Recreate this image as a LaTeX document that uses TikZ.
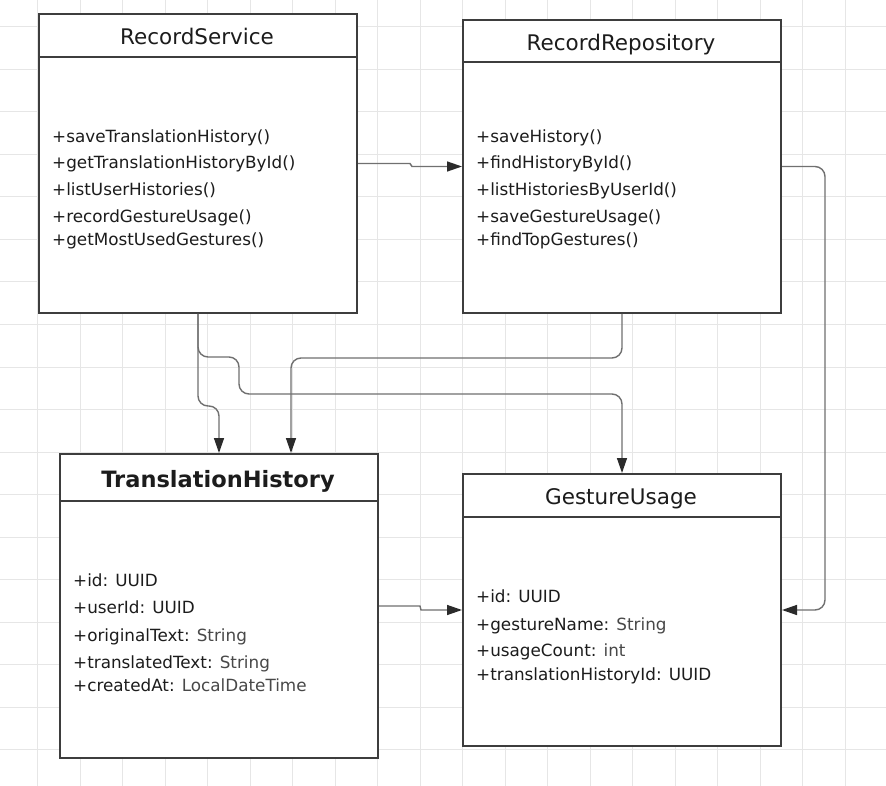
\documentclass[tikz,border=0pt]{standalone}
\usepackage{fontspec}
\setmainfont{DejaVu Sans}
\usetikzlibrary{arrows.meta}
\definecolor{boxborder}{HTML}{3D3D3D}
\definecolor{gridgray}{HTML}{E6E6E6}
\definecolor{wiregray}{HTML}{707070}
\definecolor{tipdark}{HTML}{2B2B2B}
\definecolor{inktext}{HTML}{1C1C1C}
\definecolor{typetext}{HTML}{484848}
\newcommand{\typ}[1]{\textcolor{typetext}{#1}}

\begin{document}
\begin{tikzpicture}[x=1pt, y=-1pt,
    gridline/.style={draw=gridgray, line width=1pt},
    classbox/.style={draw=boxborder, fill=white, line width=2pt, anchor=north west,
                     minimum width=318pt, inner sep=0pt},
    divider/.style={draw=boxborder, line width=2pt},
    classtitle/.style={anchor=base, inner sep=0pt, text=inktext,
                       font=\fontsize{21.5}{26}\selectfont},
    member/.style={anchor=base west, inner sep=0pt, text=inktext,
                   font=\fontsize{16.8}{20}\selectfont},
    conn/.style={draw=wiregray, line width=1.4pt, rounded corners=10pt,
                 -{Triangle[length=15pt, width=10pt, color=tipdark]}}
  ]
    \useasboundingbox[fill=white] (0,0) rectangle (886,786);

    % background grid
    \foreach \gx in {0,...,20}
      \draw[gridline] ({37.5+42.5*\gx},0) -- ++(0,786);
    \foreach \gy in {0,...,17}
      \draw[gridline] (0,{27+42.5*\gy}) -- ++(886,0);

    % classes
    \node[classbox, minimum height=299pt] (svc)  at (38,13)  {};
    \node[classbox, minimum height=293pt] (repo) at (462,19) {};
    \node[classbox, minimum height=304pt] (th)   at (59,453) {};
    \node[classbox, minimum height=272pt] (gu)   at (462,473) {};

    \draw[divider] ([yshift=-44pt]svc.north west)  -- ([yshift=-44pt]svc.north east);
    \draw[divider] ([yshift=-43pt]repo.north west) -- ([yshift=-43pt]repo.north east);
    \draw[divider] ([yshift=-48pt]th.north west)   -- ([yshift=-48pt]th.north east);
    \draw[divider] ([yshift=-44pt]gu.north west)   -- ([yshift=-44pt]gu.north east);

    \node[classtitle] (svctitle)  at (197,45)  {RecordService};
    \node[classtitle] (repotitle) at (621,51)  {RecordRepository};
    \node[classtitle, font=\fontsize{22.5}{27}\selectfont\bfseries] (thtitle) at (218,487) {TranslationHistory};
    \node[classtitle] (gutitle)   at (621,504) {GestureUsage};

    % members
    \foreach \y/\txt [count=\i] in {143/{+saveTranslationHistory()}, 169/{+getTranslationHistoryById()},
        196/{+listUserHistories()}, 223/{+recordGestureUsage()}, 246/{+getMostUsedGestures()}}
      \node[member] (svcm\i) at (52,\y) {\txt};
    \foreach \y/\txt [count=\i] in {143/{+saveHistory()}, 169/{+findHistoryById()},
        196/{+listHistoriesByUserId()}, 223/{+saveGestureUsage()}, 246/{+findTopGestures()}}
      \node[member] (repom\i) at (476,\y) {\txt};
    \foreach \y/\txt [count=\i] in {586/{+id: UUID}, 613/{+userId: UUID},
        641/{+originalText: \typ{String}}, 668/{+translatedText: \typ{String}},
        691/{+createdAt: \typ{LocalDateTime}}}
      \node[member] (thm\i) at (73,\y) {\txt};
    \foreach \y/\txt [count=\i] in {602/{+id: UUID}, 630/{+gestureName: \typ{String}},
        656/{+usageCount: \typ{int}}, 680/{+translationHistoryId: UUID}}
      \node[member] (gum\i) at (476,\y) {\txt};

    % connectors
    \draw[conn, sharp corners] (svc.east) -- ++(52,0) -- ([xshift=-50pt]repo.west) -- (repo.west);
    \draw[conn] (svc.south) -- ++(0,92) -| (th.north);
    \draw[conn] (svc.south) -- ++(0,43) -| ++(41,37) -| (gu.north);
    \draw[conn] (repo.south) -- ++(0,44) -| ([xshift=72pt]th.north);
    \draw[conn] (repo.east) -- ++(43,0) |- (gu.east);
    \draw[conn, sharp corners] (th.east) -- ++(41,0) -- ([xshift=-41pt]gu.west) -- (gu.west);
  \end{tikzpicture}
\end{document}
